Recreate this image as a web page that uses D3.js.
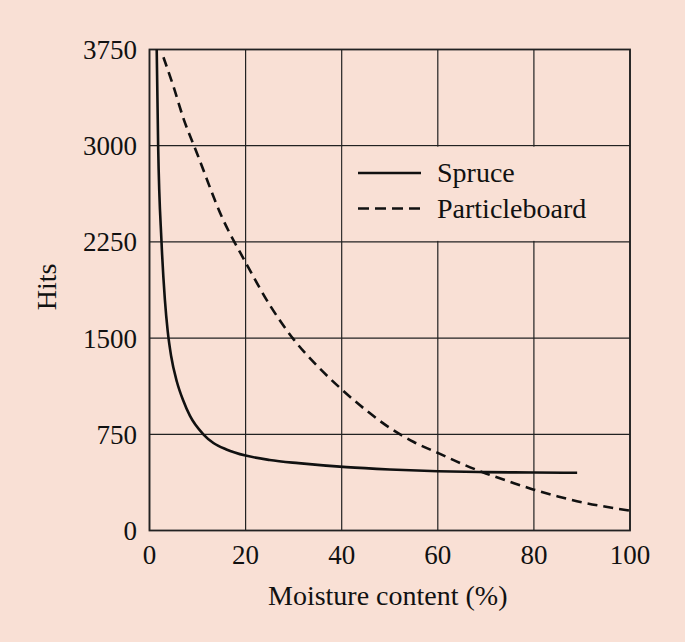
<!DOCTYPE html>
<html>
<head>
<meta charset="utf-8">
<script src="https://cdn.jsdelivr.net/npm/d3@7"></script>
<style>
  html, body { margin: 0; padding: 0; background: #f9e0d5; }
  svg { display: block; }
  text { font-family: "Liberation Serif", "Times New Roman", serif; fill: #111; }
</style>
</head>
<body>
<div id="chart"></div>
<script>
// Data
const xTicks = [0, 20, 40, 60, 80, 100];
const yTicks = [0, 750, 1500, 2250, 3000, 3750];

const spruce = [
  [1.5, 3750], [1.8, 3000], [2.5, 2250], [3.2, 1800], [3.8, 1550], [4.5, 1360],
  [5.7, 1160], [7, 1015], [8.4, 895], [11.2, 750], [13.3, 682], [16, 632],
  [20, 584], [25, 550], [31, 525], [41, 494], [50, 476], [60, 462],
  [70, 455], [80, 452], [89, 450]
];

const particleboard = [
  [2.9, 3690], [5, 3460], [7, 3220], [10, 2930], [15, 2450], [20, 2090],
  [25, 1760], [30, 1490], [35, 1280], [40, 1100], [45, 940], [50, 800],
  [55, 690], [60, 605], [65, 520], [70, 445], [75, 380], [80, 318],
  [85, 265], [90, 220], [95, 185], [100, 155]
];

const series = [
  { name: 'Spruce', values: spruce, dash: null },
  { name: 'Particleboard', values: particleboard, dash: '10,6' }
];

const width = 685, height = 642;
const margin = { left: 149.5, right: 55, top: 49.5, bottom: 111.5 };

const svg = d3.select('#chart').append('svg')
    .attr('width', width)
    .attr('height', height);

svg.append('rect')
    .attr('width', width)
    .attr('height', height)
    .attr('fill', '#f9e0d5');

const x = d3.scaleLinear()
    .domain([0, 100])
    .range([margin.left, width - margin.right]);

const y = d3.scaleLinear()
    .domain([0, 3750])
    .range([height - margin.bottom, margin.top]);

// Grid lines
svg.append('g')
  .selectAll('line')
  .data(xTicks)
  .join('line')
    .attr('x1', d => x(d)).attr('x2', d => x(d))
    .attr('y1', y(0)).attr('y2', y(3750))
    .attr('stroke', '#222')
    .attr('stroke-width', 1.2);

svg.append('g')
  .selectAll('line')
  .data(yTicks)
  .join('line')
    .attr('x1', x(0)).attr('x2', x(100))
    .attr('y1', d => y(d)).attr('y2', d => y(d))
    .attr('stroke', '#222')
    .attr('stroke-width', 1.2);

// Outer frame
svg.append('rect')
    .attr('x', x(0)).attr('y', y(3750))
    .attr('width', x(100) - x(0))
    .attr('height', y(0) - y(3750))
    .attr('fill', 'none')
    .attr('stroke', '#222')
    .attr('stroke-width', 1.8);

// Legend background hides the inner grid lines of its cell
svg.append('rect')
    .attr('x', x(40) + 1)
    .attr('y', y(3000) + 1)
    .attr('width', x(100) - x(40) - 2)
    .attr('height', y(2250) - y(3000) - 2)
    .attr('fill', '#f9e0d5');

// Curves
const line = d3.line()
    .x(d => x(d[0]))
    .y(d => y(d[1]))
    .curve(d3.curveMonotoneX);

svg.append('g')
  .selectAll('path')
  .data(series)
  .join('path')
    .attr('d', d => line(d.values))
    .attr('fill', 'none')
    .attr('stroke', '#111')
    .attr('stroke-width', 2.6)
    .attr('stroke-dasharray', d => d.dash);

// Tick labels
svg.append('g')
  .selectAll('text')
  .data(xTicks)
  .join('text')
    .attr('x', d => x(d))
    .attr('y', 564)
    .attr('text-anchor', 'middle')
    .style('font-size', '27px')
    .text(d => d);

svg.append('g')
  .selectAll('text')
  .data(yTicks)
  .join('text')
    .attr('x', 137)
    .attr('y', d => y(d) + 9.5)
    .attr('text-anchor', 'end')
    .style('font-size', '27px')
    .text(d => d);

// Axis titles
svg.append('text')
    .attr('x', (x(0) + x(100)) / 2 - 2)
    .attr('y', 605)
    .attr('text-anchor', 'middle')
    .style('font-size', '28px')
    .text('Moisture content (%)');

svg.append('text')
    .attr('transform', `translate(56,${(y(0) + y(3750)) / 2 - 3}) rotate(-90)`)
    .attr('text-anchor', 'middle')
    .style('font-size', '28px')
    .text('Hits');

// Legend
const legend = svg.append('g')
    .attr('transform', 'translate(358,173)');

legend.selectAll('line')
  .data(series)
  .join('line')
    .attr('x1', 0).attr('x2', 63)
    .attr('y1', (d, i) => i * 35.5).attr('y2', (d, i) => i * 35.5)
    .attr('stroke', '#111')
    .attr('stroke-width', 2.6)
    .attr('stroke-dasharray', d => d.dash ? '11,6' : null);

legend.selectAll('text')
  .data(series)
  .join('text')
    .attr('x', 79)
    .attr('y', (d, i) => i * 35.5 + 9)
    .style('font-size', '28px')
    .text(d => d.name);
</script>
</body>
</html>
